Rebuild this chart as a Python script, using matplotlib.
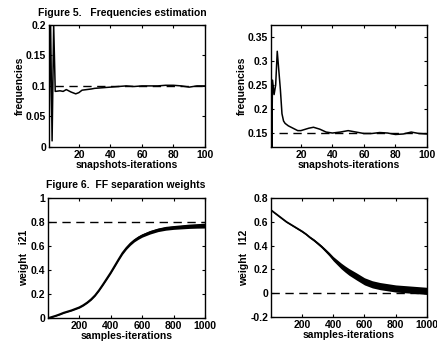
import matplotlib
matplotlib.use("Agg")
import matplotlib.pyplot as plt

plt.rcParams["font.family"] = ["Liberation Sans", "DejaVu Sans"]
plt.rcParams["font.weight"] = "bold"
plt.rcParams["axes.labelweight"] = "bold"
plt.rcParams["font.size"] = 7.5

# Figure 5, left: frequency estimate vs snapshots
freq1_x = [1, 2, 3, 4, 5, 8, 10, 12, 15, 18, 20, 22, 25, 28, 30, 35, 40, 45, 50,
           55, 60, 65, 70, 75, 80, 85, 90, 95, 100]
freq1_y = [0, 0.21, 0.01, 0.2, 0.091, 0.092, 0.091, 0.094, 0.09, 0.087, 0.089, 0.093,
           0.094, 0.095, 0.096, 0.097, 0.098, 0.099, 0.1, 0.099, 0.1, 0.1, 0.1, 0.101,
           0.101, 0.1, 0.098, 0.1, 0.1]
freq1_true = 0.1

# Figure 5, right
freq2_x = [1, 1.5, 2, 3, 4, 5, 6, 7, 8, 9, 10, 12, 15, 18, 20, 25, 28, 32, 36, 40, 45,
           50, 55, 60, 65, 70, 75, 80, 85, 90, 95, 100]
freq2_y = [0.36, 0.12, 0.26, 0.23, 0.25, 0.32, 0.28, 0.24, 0.19, 0.175, 0.17, 0.165,
           0.16, 0.155, 0.155, 0.16, 0.162, 0.158, 0.152, 0.15, 0.152, 0.155, 0.152,
           0.149, 0.149, 0.151, 0.15, 0.147, 0.148, 0.152, 0.149, 0.148]
freq2_true = 0.15

# Figure 6: separation weights vs samples (mean and half spread of the band)
w_x = [0, 25, 50, 75, 100, 150, 200, 225, 250, 275, 300, 325, 350, 375, 400, 425,
       450, 475, 500, 525, 550, 575, 600, 650, 700, 750, 800, 850, 900, 950, 1000]
w21_mean = [0, 0.01, 0.02, 0.032, 0.045, 0.065, 0.09, 0.108, 0.13, 0.157, 0.19,
            0.232, 0.28, 0.33, 0.38, 0.435, 0.49, 0.543, 0.585, 0.62, 0.648, 0.67,
            0.688, 0.715, 0.735, 0.748, 0.755, 0.76, 0.765, 0.768, 0.77]
w21_spread = [0.005, 0.005, 0.005, 0.006, 0.006, 0.006, 0.007, 0.007, 0.007, 0.008,
              0.008, 0.008, 0.009, 0.01, 0.01, 0.011, 0.011, 0.012, 0.012, 0.013,
              0.013, 0.014, 0.014, 0.015, 0.015, 0.016, 0.016, 0.017, 0.018, 0.019, 0.02]
w21_true = 0.8
w12_mean = [0.70, 0.675, 0.65, 0.625, 0.6, 0.56, 0.52, 0.497, 0.47, 0.447, 0.42,
            0.392, 0.36, 0.327, 0.29, 0.26, 0.23, 0.204, 0.18, 0.16, 0.14, 0.12, 0.10,
            0.075, 0.06, 0.05, 0.04, 0.035, 0.03, 0.025, 0.02]
w12_spread = [0.004, 0.004, 0.005, 0.005, 0.005, 0.006, 0.007, 0.007, 0.008, 0.009,
              0.01, 0.011, 0.013, 0.015, 0.018, 0.021, 0.024, 0.026, 0.028, 0.029,
              0.03, 0.03, 0.03, 0.03, 0.03, 0.03, 0.03, 0.03, 0.03, 0.03, 0.03]
w12_true = 0.0

fig = plt.figure(figsize=(4.37, 3.45), dpi=100)
ax_tl = fig.add_axes([0.112, 0.574, 0.357, 0.354])
ax_tr = fig.add_axes([0.620, 0.574, 0.357, 0.354])
ax_bl = fig.add_axes([0.110, 0.078, 0.359, 0.348])
ax_br = fig.add_axes([0.620, 0.081, 0.357, 0.345])

dash = (0, (6, 4))

def style(ax):
    ax.tick_params(direction="in", top=True, right=True, length=2.5, width=0.8, pad=2)
    for s in ax.spines.values():
        s.set_linewidth(1.0)

ax_tl.plot(freq1_x, freq1_y, color="black", lw=1.1)
ax_tl.plot([5, 100], [freq1_true, freq1_true], color="black", lw=1.0, linestyle=dash)
ax_tl.set_xlim(1, 100)
ax_tl.set_ylim(0, 0.2)
ax_tl.set_xticks([20, 40, 60, 80, 100])
ax_tl.set_yticks([0, 0.05, 0.1, 0.15, 0.2])
ax_tl.set_yticklabels(["0", "0.05", "0.1", "0.15", "0.2"])
ax_tl.set_xlabel("snapshots-iterations", labelpad=0)
ax_tl.set_ylabel("frequencies", labelpad=1)

ax_tr.plot(freq2_x, freq2_y, color="black", lw=1.1)
ax_tr.plot([6, 100], [freq2_true, freq2_true], color="black", lw=1.0, linestyle=dash)
ax_tr.set_xlim(1, 100)
ax_tr.set_ylim(0.121, 0.375)
ax_tr.set_xticks([20, 40, 60, 80, 100])
ax_tr.set_yticks([0.15, 0.2, 0.25, 0.3, 0.35])
ax_tr.set_yticklabels(["0.15", "0.2", "0.25", "0.3", "0.35"])
ax_tr.set_xlabel("snapshots-iterations", labelpad=0)
ax_tr.set_ylabel("frequencies", labelpad=1)

lo21 = [m - s for m, s in zip(w21_mean, w21_spread)]
hi21 = [m + s for m, s in zip(w21_mean, w21_spread)]
ax_bl.fill_between(w_x, lo21, hi21, color="black", lw=0)
ax_bl.plot(w_x, w21_mean, color="black", lw=1.3)
ax_bl.plot([0, 1000], [w21_true, w21_true], color="black", lw=1.0, linestyle=dash)
ax_bl.set_xlim(1, 1000)
ax_bl.set_ylim(0, 1)
ax_bl.set_xticks([200, 400, 600, 800, 1000])
ax_bl.set_yticks([0, 0.2, 0.4, 0.6, 0.8, 1])
ax_bl.set_yticklabels(["0", "0.2", "0.4", "0.6", "0.8", "1"])
ax_bl.set_xlabel("samples-iterations", labelpad=0)
ax_bl.set_ylabel("weight   i21", labelpad=1)

ax_br.plot([0, 1000], [w12_true, w12_true], color="black", lw=1.0, linestyle=dash)
lo12 = [m - s for m, s in zip(w12_mean, w12_spread)]
hi12 = [m + s for m, s in zip(w12_mean, w12_spread)]
ax_br.fill_between(w_x, lo12, hi12, color="black", lw=0)
ax_br.plot(w_x, w12_mean, color="black", lw=1.3)
ax_br.set_xlim(1, 1000)
ax_br.set_ylim(-0.2, 0.8)
ax_br.set_xticks([200, 400, 600, 800, 1000])
ax_br.set_yticks([-0.2, 0, 0.2, 0.4, 0.6, 0.8])
ax_br.set_yticklabels(["-0.2", "0", "0.2", "0.4", "0.6", "0.8"])
ax_br.set_xlabel("samples-iterations", labelpad=0)
ax_br.set_ylabel("weight   l12", labelpad=1)

for ax in (ax_tl, ax_tr, ax_bl, ax_br):
    style(ax)

fig.text(0.28, 0.962, "Figure 5.   Frequencies estimation", ha="center", va="center")
fig.text(0.288, 0.464, "Figure 6.  FF separation weights", ha="center", va="center")

fig.savefig("out.png", dpi=100)
